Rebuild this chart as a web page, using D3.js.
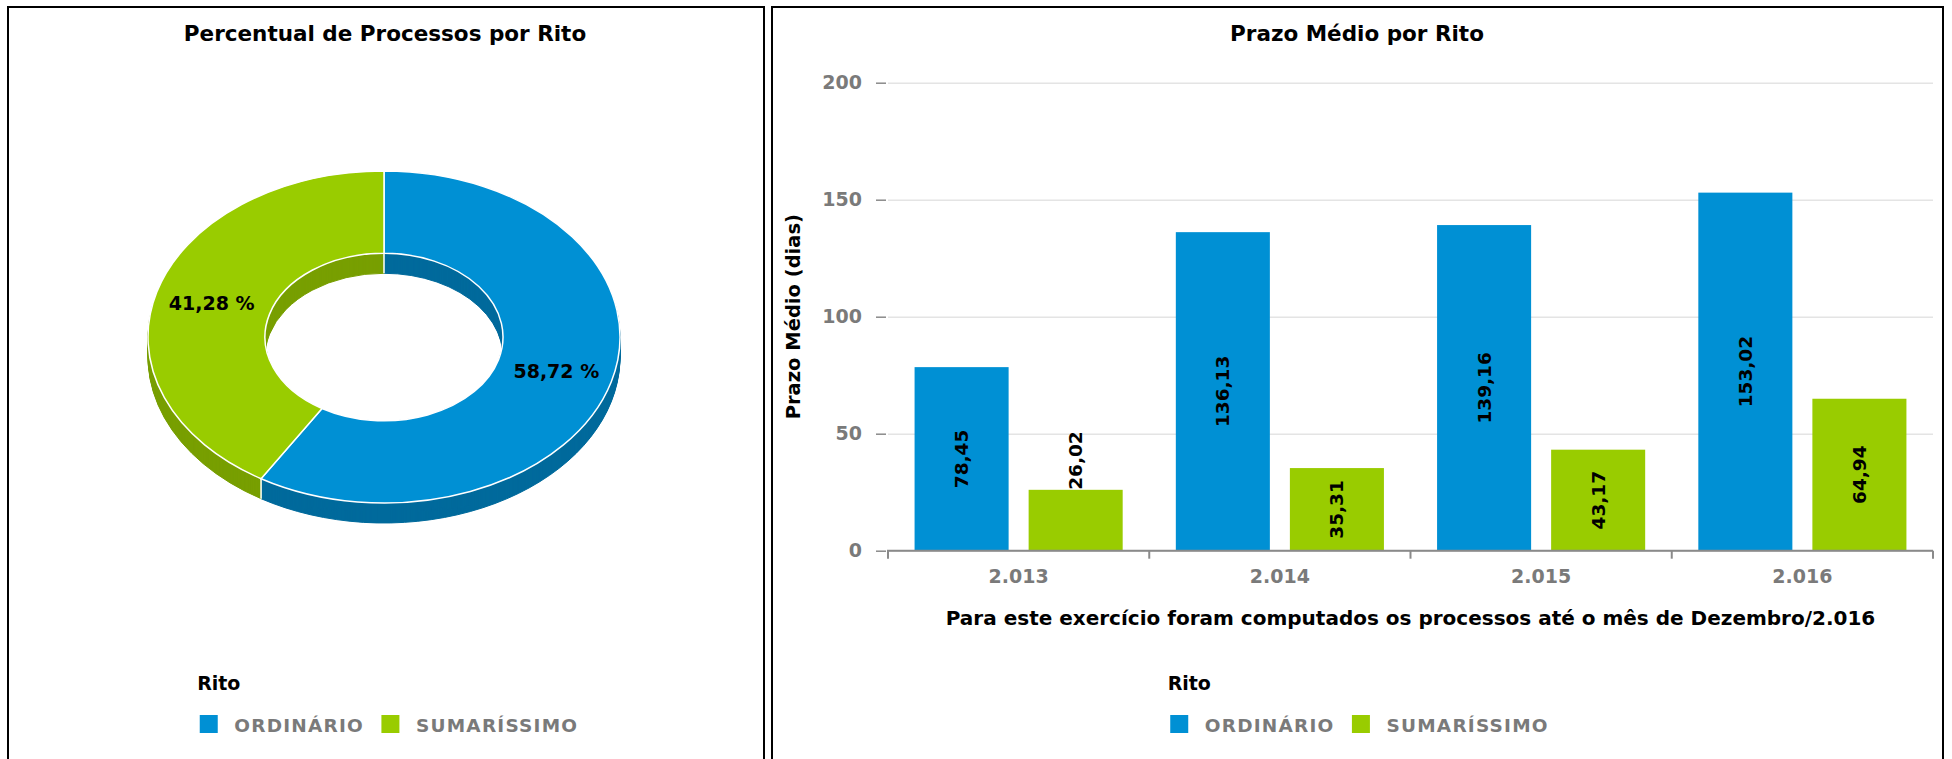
<!DOCTYPE html>
<html lang="pt-BR">
<head>
<meta charset="UTF-8">
<title>Percentual e Prazo Médio por Rito</title>
<script src="https://d3js.org/d3.v7.min.js"></script>
<style>
    body { margin: 0; background: #fff; }
    svg { display: block; font-family: "DejaVu Sans", sans-serif; font-weight: bold; }
    .cinza { fill: #7a7a7a; }
</style>
</head>
<body>

<svg width="1952" height="759"></svg>

<script>
// Dados
const ritos = ["ORDINÁRIO", "SUMARÍSSIMO"];
const percentuais = [58.72, 41.28];
const anos = [2013, 2014, 2015, 2016];
const prazoOrdinario = [78.45, 136.13, 139.16, 153.02];
const prazoSumarissimo = [26.02, 35.31, 43.17, 64.94];
const yTicks = [0, 50, 100, 150, 200];

const cores = ["#0090d4", "#99cc00"];
const coresLado = ["#006a9c", "#789f00"];

const br = d3.formatLocale({decimal: ",", thousands: ".", grouping: [3], currency: ["R$", ""]});
const fmt = br.format(",.2f");
const fmtAno = br.format(",d");

const svg = d3.select("svg");

// Molduras dos dois paineis
const paineis = [{x: 8, w: 756}, {x: 772, w: 1171}];
svg.selectAll("rect.painel")
    .data(paineis)
    .enter().append("rect")
    .attr("class", "painel")
    .attr("x", d => d.x)
    .attr("y", 7)
    .attr("width", d => d.w)
    .attr("height", 800)
    .attr("fill", "none")
    .attr("stroke", "#000")
    .attr("stroke-width", 2);

// Titulos
svg.append("text")
    .attr("x", 385).attr("y", 41)
    .attr("text-anchor", "middle")
    .attr("font-size", 21.5)
    .text("Percentual de Processos por Rito");

svg.append("text")
    .attr("x", 1357).attr("y", 41)
    .attr("text-anchor", "middle")
    .attr("font-size", 21.5)
    .text("Prazo Médio por Rito");

// ---------- Rosca 3D ----------
const cx = 384, cy = 337, rx = 236, ry = 166, prof = 20;
const k = ry / rx;
const fatias = d3.pie().sort(null)(percentuais);
const arc = d3.arc().innerRadius(119).outerRadius(rx);

const rosca = svg.append("g");

// lateral: camadas empilhadas de baixo para cima
for (let dz = prof; dz > 0; dz--) {
    rosca.append("g")
        .attr("transform", `translate(${cx},${cy + dz}) scale(1,${k})`)
        .selectAll("path")
        .data(fatias)
        .enter().append("path")
        .attr("d", arc)
        .attr("fill", (d, i) => coresLado[i])
        .attr("stroke", (d, i) => coresLado[i])
        .attr("stroke-width", 1)
        .attr("vector-effect", "non-scaling-stroke");
}

// divisorias brancas nas paredes
fatias.forEach(d => {
    const a = d.startAngle;
    const s = Math.sin(a), c = Math.cos(a);
    const r = c < 0 ? rx : 119;
    const px = cx + r * s, py = cy - r * c * k;
    rosca.append("line")
        .attr("x1", px).attr("x2", px)
        .attr("y1", py).attr("y2", py + prof)
        .attr("stroke", "#fff")
        .attr("stroke-width", 1.5);
});

// face de cima
rosca.append("g")
    .attr("transform", `translate(${cx},${cy}) scale(1,${k})`)
    .selectAll("path")
    .data(fatias)
    .enter().append("path")
    .attr("d", arc)
    .attr("fill", (d, i) => cores[i])
    .attr("stroke", "#fff")
    .attr("stroke-width", 1.5)
    .attr("vector-effect", "non-scaling-stroke");

const arcRotulo = d3.arc().innerRadius(179).outerRadius(179);
rosca.selectAll("text")
    .data(fatias)
    .enter().append("text")
    .attr("x", d => cx + arcRotulo.centroid(d)[0])
    .attr("y", d => cy + arcRotulo.centroid(d)[1] * k)
    .attr("dy", "0.35em")
    .attr("text-anchor", "middle")
    .attr("font-size", 19)
    .text(d => fmt(d.data) + " %");

// ---------- Barras ----------
const x0 = d3.scaleBand().domain(anos).range([888, 1933]);
const x1 = d3.scaleBand().domain(ritos).range([0, x0.bandwidth()])
    .paddingInner(0.1755).paddingOuter(0.233);
const y = d3.scaleLinear().domain([0, 200]).range([550.7, 82.7]);

// grade
svg.append("g")
    .attr("transform", "translate(888,0)")
    .call(d3.axisLeft(y).tickValues(yTicks).tickSize(-(1933 - 888)).tickFormat(""))
    .call(g => g.select(".domain").remove())
    .call(g => g.selectAll("line").attr("stroke", "#e4e4e4").attr("stroke-width", 1.5));

// eixo Y
svg.append("g")
    .attr("transform", "translate(886,0)")
    .call(d3.axisLeft(y).tickValues(yTicks).tickSize(10).tickPadding(14).tickFormat(d3.format("d")))
    .attr("font-size", null).attr("font-family", null)
    .call(g => g.select(".domain").remove())
    .call(g => g.selectAll("line").attr("stroke", "#8a8a8a").attr("stroke-width", 1.5))
    .call(g => g.selectAll("text").attr("class", "cinza").attr("fill", null).attr("font-size", 19));

svg.append("text")
    .attr("transform", `translate(793,${(y(0) + y(200)) / 2}) rotate(-90)`)
    .attr("text-anchor", "middle")
    .attr("dominant-baseline", "central")
    .attr("font-size", 19.5)
    .text("Prazo Médio (dias)");

const dadosBarras = anos.flatMap((ano, j) => ritos.map((rito, i) => ({
    ano, rito, i, valor: [prazoOrdinario, prazoSumarissimo][i][j]
})));

const barras = svg.append("g").selectAll("g")
    .data(dadosBarras)
    .enter().append("g");

barras.append("rect")
    .attr("x", d => x0(d.ano) + x1(d.rito))
    .attr("y", d => y(d.valor))
    .attr("width", x1.bandwidth())
    .attr("height", d => y(0) - y(d.valor))
    .attr("fill", d => cores[d.i]);

barras.append("text")
    .attr("font-size", 18.5)
    .attr("dy", "0.35em")
    .text(d => fmt(d.valor))
    .each(function(d) {
        const len = this.getComputedTextLength();
        const h = y(0) - y(d.valor);
        const bx = x0(d.ano) + x1(d.rito) + x1.bandwidth() / 2;
        const dentro = len + 10 < h;
        d3.select(this)
            .attr("text-anchor", dentro ? "middle" : "start")
            .attr("transform", `translate(${bx},${dentro ? y(d.valor) + h / 2 : y(d.valor)}) rotate(-90)`);
    });

// eixo X
svg.append("line")
    .attr("x1", 887).attr("x2", 1933)
    .attr("y1", y(0)).attr("y2", y(0))
    .attr("stroke", "#8a8a8a").attr("stroke-width", 2);

svg.append("g").selectAll("line")
    .data(anos.map(a => x0(a)).concat([x0.range()[1]]))
    .enter().append("line")
    .attr("x1", d => d).attr("x2", d => d)
    .attr("y1", y(0)).attr("y2", y(0) + 8)
    .attr("stroke", "#8a8a8a").attr("stroke-width", 2);

svg.append("g")
    .attr("transform", `translate(0,${y(0)})`)
    .call(d3.axisBottom(x0).tickSize(0).tickPadding(19).tickFormat(fmtAno))
    .attr("font-size", null).attr("font-family", null)
    .call(g => g.select(".domain").remove())
    .call(g => g.selectAll("text").attr("class", "cinza").attr("fill", null).attr("font-size", 19));

svg.append("text")
    .attr("x", (x0.range()[0] + x0.range()[1]) / 2)
    .attr("y", 625)
    .attr("text-anchor", "middle")
    .attr("font-size", 20)
    .text("Para este exercício foram computados os processos até o mês de Dezembro/2.016");

// ---------- Legendas ----------
function legenda(centro) {
    const g = svg.append("g");
    g.append("text")
        .attr("y", 690)
        .attr("font-size", 19)
        .text("Rito");
    let x = 0;
    ritos.forEach((r, i) => {
        g.append("rect")
            .attr("x", x).attr("y", 715)
            .attr("width", 18).attr("height", 18)
            .attr("fill", cores[i]);
        x += 18 + 16.6;
        const t = g.append("text")
            .attr("class", "cinza")
            .attr("x", x).attr("y", 731.5)
            .attr("font-size", 18.5)
            .attr("letter-spacing", 1.2)
            .text(r);
        x += t.node().getComputedTextLength() + 17.4;
    });
    const largura = x - 17.4;
    g.select("text").attr("x", -2.6);
    g.attr("transform", `translate(${centro - largura / 2},0)`);
}
legenda(389);
legenda(1359.5);
</script>

</body>
</html>
